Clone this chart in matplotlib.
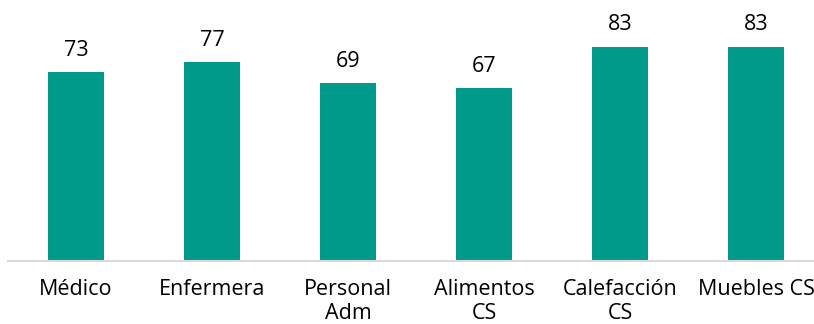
import matplotlib.pyplot as plt

categories = ["Médico", "Enfermera", "Personal\nAdm", "Alimentos\nCS", "Calefacción\nCS", "Muebles CS"]
values = [73, 77, 69, 67, 83, 83]

plt.rcParams['font.family'] = ['Open Sans', 'DejaVu Sans']

fig = plt.figure(figsize=(8.14, 3.24), dpi=100)
ax = fig.add_axes([8 / 814, 1 - 261 / 324, 1 - 8 / 814, 261 / 324])

x = range(len(categories))
bars = ax.bar(x, values, width=0.41, color="#009A8A")

for xi, v in zip(x, values):
    ax.annotate(str(v), (xi, v), xytext=(0, 8), textcoords="offset points",
                ha="center", va="bottom", fontsize=15.5, color="black")

ax.set_xlim(-0.5, (814 - 76) / 136)
ax.set_ylim(0, 101)
ax.set_xticks(list(x))
ax.set_xticklabels(categories, fontsize=15.5, linespacing=1.2)
ax.tick_params(axis="x", length=0, pad=13)
ax.set_yticks([])

for s in ["top", "right", "left"]:
    ax.spines[s].set_visible(False)
ax.spines["bottom"].set_color("#D9D9D9")
ax.spines["bottom"].set_linewidth(1.5)

fig.savefig("out.png", dpi=100)
